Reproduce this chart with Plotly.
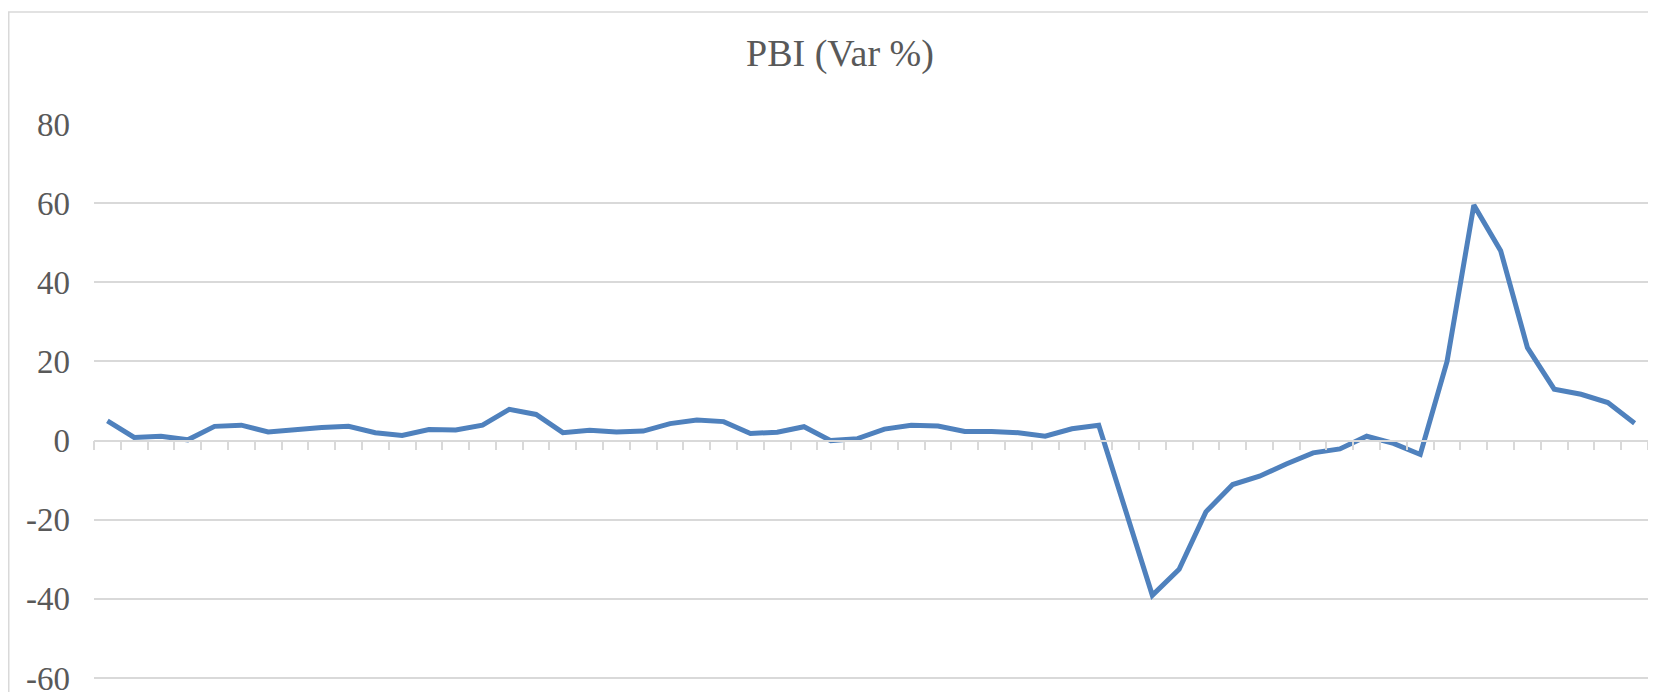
import plotly.graph_objects as go

# Period index (categories along the x axis, no labels shown)
periods = list(range(1, 59))

# PBI (Var %) values
pbi_var = [
    5.0, 0.8, 1.1, 0.2, 3.6, 3.9, 2.2, 2.9, 3.3, 3.6,
    2.0, 1.3, 2.8, 2.7, 3.9, 7.9, 6.6, 2.0, 2.6, 2.2,
    2.4, 4.3, 5.2, 4.8, 1.8, 2.1, 3.5, 0.0, 0.5, 2.9,
    3.9, 3.7, 2.3, 2.3, 2.0, 1.1, 3.0, 3.9, -17.5, -39.1,
    -32.5, -18.0, -11.1, -9.0, -5.9, -3.1, -2.1, 1.1, -0.7, -3.5,
    20.0, 59.5, 48.0, 23.5, 13.0, 11.7, 9.6, 4.4,
]

y_ticks = [-60, -40, -20, 0, 20, 40, 60, 80]
y_tick_labels = [str(v) for v in y_ticks]
title_text = "PBI (Var %)"

Y_MIN, Y_MAX = -60, 80
Y_LOW = Y_MIN - 1  # small pad so the -60 gridline is drawn
GRID = "#D9D9D9"
TXT = "#595959"
FONT = "Liberation Serif"

# page body has an 8px margin: figure is laid out 8px right/down
W, H = 1648, 684
L, R, T = 86, 8, 116
plot_w = W - L - R
plot_h = round((670 - T) * (Y_MAX - Y_LOW) / (Y_MAX - Y_MIN))
B = H - T - plot_h

fig = go.Figure()
fig.add_trace(go.Scatter(
    x=periods, y=pbi_var, mode="lines",
    line=dict(color="#4F81BD", width=5),
    hoverinfo="x+y", showlegend=False,
))

fig.update_layout(
    width=W, height=H,
    margin=dict(l=L, r=R, t=T, b=B, pad=0, autoexpand=False),
    paper_bgcolor="white", plot_bgcolor="white",
    title=dict(
        text=title_text, x=832 / W, xanchor="center", xref="container",
        y=1 - 45 / H, yanchor="middle", yref="container",
        font=dict(family=FONT, size=38, color=TXT),
    ),
    xaxis=dict(
        type="linear", range=[0.5, len(periods) + 0.5],
        tickvals=[i + 0.5 for i in range(len(periods) + 1)],
        showticklabels=False, ticks="outside", ticklen=9,
        tickcolor=GRID, tickwidth=1.5,
        showline=True, linecolor=GRID, linewidth=1.5,
        showgrid=False, zeroline=False, automargin=False,
        anchor="free", position=(0 - Y_LOW) / (Y_MAX - Y_LOW),
    ),
    yaxis=dict(
        range=[Y_LOW, Y_MAX], tickvals=y_ticks, ticktext=y_tick_labels,
        showgrid=True, gridcolor=GRID, gridwidth=1.5,
        zeroline=False, showline=False, ticks="", automargin=False,
        ticklabelstandoff=23, ticklabeloverflow="allow",
        tickfont=dict(family=FONT, size=33, color=TXT),
    ),
    shapes=[dict(
        type="rect", xref="paper", yref="paper",
        x0=(0.75 - L) / plot_w, x1=(W + 20 - L) / plot_w,
        y0=-(B + 20) / plot_h, y1=(H - 4 - B) / plot_h,
        line=dict(color=GRID, width=1.5), fillcolor="rgba(0,0,0,0)",
        layer="below",
    )],
)

fig.write_html("out.html")
